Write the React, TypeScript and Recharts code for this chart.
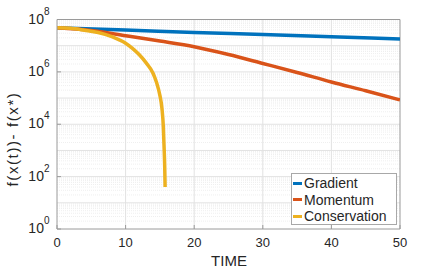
import React from "react";
import { LineChart, Line, XAxis, YAxis, ReferenceLine } from "recharts";

// ---- data ----
const GRADIENT_T = [0, 10, 20, 30, 40, 50];
const GRADIENT_V = [4.8e7, 4.0e7, 3.2e7, 2.7e7, 2.2e7, 1.8e7];

const MOMENTUM_T = [0, 5, 10, 15, 20, 25, 30, 35, 40, 45, 50];
const MOMENTUM_V = [4.8e7, 3.8e7, 2.4e7, 1.5e7, 9.1e6, 4.6e6, 2.1e6, 9.5e5, 4.1e5, 1.9e5, 8.5e4];

const CONSERVATION_T = [0, 2, 4, 6, 8, 9, 10, 11, 12, 13, 14, 14.5, 15, 15.3, 15.5, 15.6, 15.7, 15.76];
const CONSERVATION_V = [4.8e7, 4.6e7, 3.9e7, 3.2e7, 2.2e7, 1.7e7, 1.25e7, 7.9e6, 4.5e6, 2.2e6, 8.9e5, 4.0e5, 1.26e5, 4.0e4, 7.9e3, 1.6e3, 250, 40];

const SERIES_NAMES = ["Gradient", "Momentum", "Conservation"];
const COLORS = ["#0072BD", "#D95319", "#EDB120"];

const X_TICKS = [0, 10, 20, 30, 40, 50];
const Y_TICKS = [1, 1e2, 1e4, 1e6, 1e8];
const X_GRID = [10, 20, 30, 40];
const DECADES = [1, 10, 100, 1e3, 1e4, 1e5, 1e6, 1e7];

const X_LABEL = "TIME";
const Y_LABEL = "f(x(t))- f(x*)";

const zip = (ts: number[], vs: number[]) => ts.map((t, i) => ({ t, v: vs[i] }));
const gradientData = zip(GRADIENT_T, GRADIENT_V);
const momentumData = zip(MOMENTUM_T, MOMENTUM_V);
const conservationData = zip(CONSERVATION_T, CONSERVATION_V);
const SERIES = [gradientData, momentumData, conservationData];

const MINOR_GRID: number[] = [];
DECADES.forEach((d) => {
  for (let k = 2; k <= 9; k++) MINOR_GRID.push(d * k);
});
const MAJOR_GRID = DECADES.slice(1);

const FONT = "'Liberation Sans', Arial, Helvetica, sans-serif";
const AXIS = "#9a9a9a";
const TEXT = "#262626";

const XTick = (props: any) => {
  const { x, y, payload } = props;
  return (
    <g>
      <line x1={x} x2={x} y1={y} y2={y - 4} stroke={AXIS} strokeWidth={1} />
      <text x={x} y={y + 17.5} textAnchor="middle" fontSize={13} fill={TEXT} fontFamily={FONT}>
        {payload.value}
      </text>
    </g>
  );
};

const YTick = (props: any) => {
  const { x, y, payload } = props;
  const e = Math.round(Math.log10(payload.value));
  return (
    <g>
      <line x1={x} x2={x + 4} y1={y} y2={y} stroke={AXIS} strokeWidth={1} />
      <text x={x - 7.5} y={y + 4} textAnchor="end" fontSize={14} fill={TEXT} fontFamily={FONT}>
        10
        <tspan dy={-9} fontSize={10}>
          {e}
        </tspan>
      </text>
    </g>
  );
};

const LegendBox = () => (
  <div
    style={{
      position: "absolute",
      left: 291,
      top: 173,
      width: 104,
      height: 50,
      border: "1px solid #a8a8a8",
      background: "#fff",
      fontFamily: FONT,
      fontSize: 14,
      color: TEXT,
    }}
  >
    {SERIES_NAMES.map((n, i) => (
      <div
        key={n}
        style={{
          position: "absolute",
          left: 1,
          top: 1 + i * 16.7,
          height: 16,
          display: "flex",
          alignItems: "center",
          whiteSpace: "nowrap",
        }}
      >
        <span style={{ display: "inline-block", width: 9, height: 3, background: COLORS[i], marginRight: 2 }} />
        <span style={{ lineHeight: "16px" }}>{n}</span>
      </div>
    ))}
  </div>
);

export default function App() {
  return (
    <div style={{ position: "absolute", left: 0, top: 0, width: 443, height: 270, background: "#fff" }}>
      <LineChart width={443} height={270} margin={{ top: 19.5, right: 43, bottom: 0, left: 0 }}>
        <XAxis
          type="number"
          dataKey="t"
          domain={[0, 50]}
          ticks={X_TICKS}
          height={41}
          tickSize={0}
          tickMargin={0}
          tickLine={false}
          axisLine={{ stroke: AXIS }}
          tick={<XTick />}
          allowDataOverflow
          label={{
            content: () => (
              <text x={229} y={266} textAnchor="middle" fontSize={15} fill={TEXT} fontFamily={FONT}>
                {X_LABEL}
              </text>
            ),
          }}
        />
        <YAxis
          type="number"
          scale="log"
          domain={[1, 1e8]}
          ticks={Y_TICKS}
          width={57}
          tickSize={0}
          tickMargin={0}
          tickLine={false}
          axisLine={{ stroke: AXIS }}
          tick={<YTick />}
          allowDataOverflow
          label={{
            content: () => (
              <text
                x={18}
                y={139}
                textAnchor="middle"
                fontSize={15}
                letterSpacing={1.6}
                fill={TEXT}
                fontFamily={FONT}
                transform="rotate(-90 18 139)"
              >
                {Y_LABEL}
              </text>
            ),
          }}
        />
        {MINOR_GRID.map((v) => (
          <ReferenceLine key={"m" + v} y={v} stroke="#efefef" strokeWidth={1} strokeDasharray="1 1" />
        ))}
        {MAJOR_GRID.map((v) => (
          <ReferenceLine key={"M" + v} y={v} stroke="#e2e2e2" strokeWidth={1} />
        ))}
        {X_GRID.map((v) => (
          <ReferenceLine key={"x" + v} x={v} stroke="#e2e2e2" strokeWidth={1} />
        ))}
        <ReferenceLine y={1e8} stroke={AXIS} strokeWidth={1} />
        <ReferenceLine x={50} stroke={AXIS} strokeWidth={1} />
        {SERIES.map((d, i) => (
          <Line
            key={SERIES_NAMES[i]}
            data={d}
            dataKey="v"
            name={SERIES_NAMES[i]}
            stroke={COLORS[i]}
            strokeWidth={3.5}
            dot={false}
            activeDot={false}
            type="monotone"
            isAnimationActive={false}
          />
        ))}
      </LineChart>
      <LegendBox />
    </div>
  );
}
